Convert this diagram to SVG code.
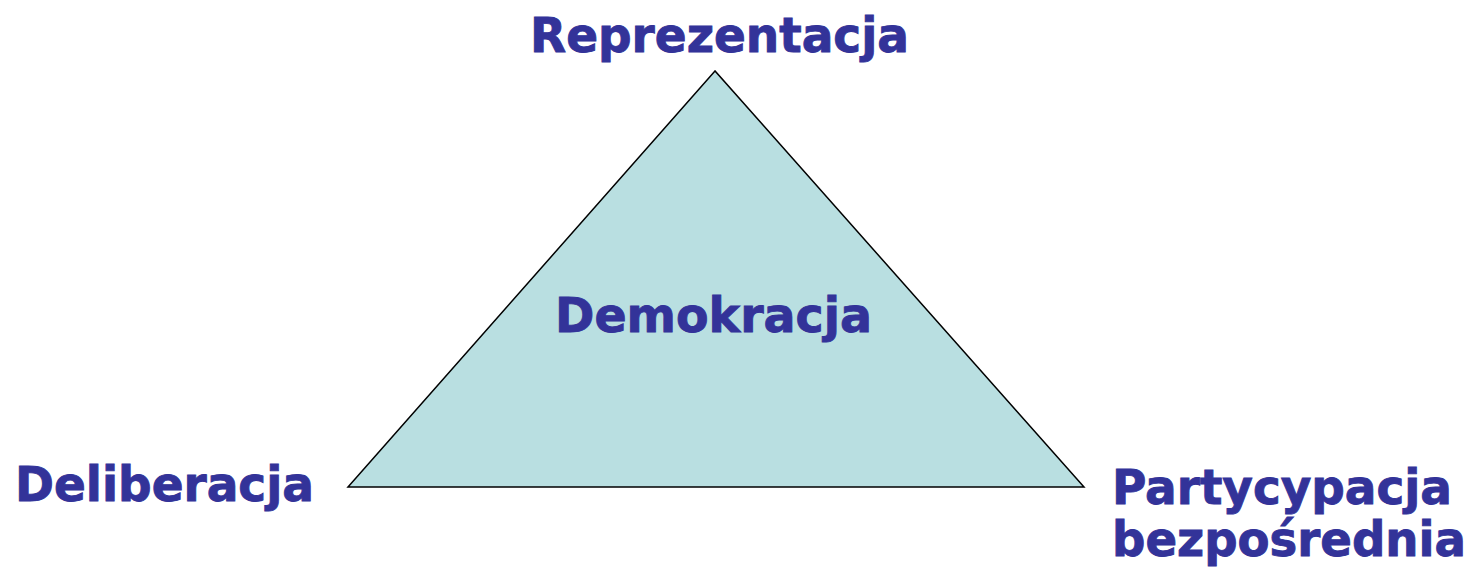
<svg xmlns="http://www.w3.org/2000/svg" width="1474" height="570" viewBox="0 0 1474 570">
<style>
.lbl{font-family:"DejaVu Sans","Liberation Sans",sans-serif;font-weight:bold;font-size:48px;fill:#333399;stroke:#333399;stroke-width:0.9px}
</style>
<rect width="1474" height="570" fill="#ffffff"/>
<g id="triangle">
<polygon points="715,71 348,487 1084,487" fill="#B9DFE1" stroke="#000000" stroke-width="1.5"/>
<text class="lbl" x="555" y="332" textLength="317" lengthAdjust="spacingAndGlyphs">Demokracja</text>
</g>
<g id="reprezentacja"><text class="lbl" x="530" y="52" textLength="379" lengthAdjust="spacingAndGlyphs">Reprezentacja</text></g>
<g id="deliberacja"><text class="lbl" x="15" y="501" textLength="299" lengthAdjust="spacingAndGlyphs">Deliberacja</text></g>
<g id="partycypacja"><text class="lbl" x="1112" y="504" textLength="340" lengthAdjust="spacingAndGlyphs">Partycypacja</text><text class="lbl" x="1112" y="556" textLength="354" lengthAdjust="spacingAndGlyphs">bezpośrednia</text></g>
<g id="connectors"></g>
</svg>
